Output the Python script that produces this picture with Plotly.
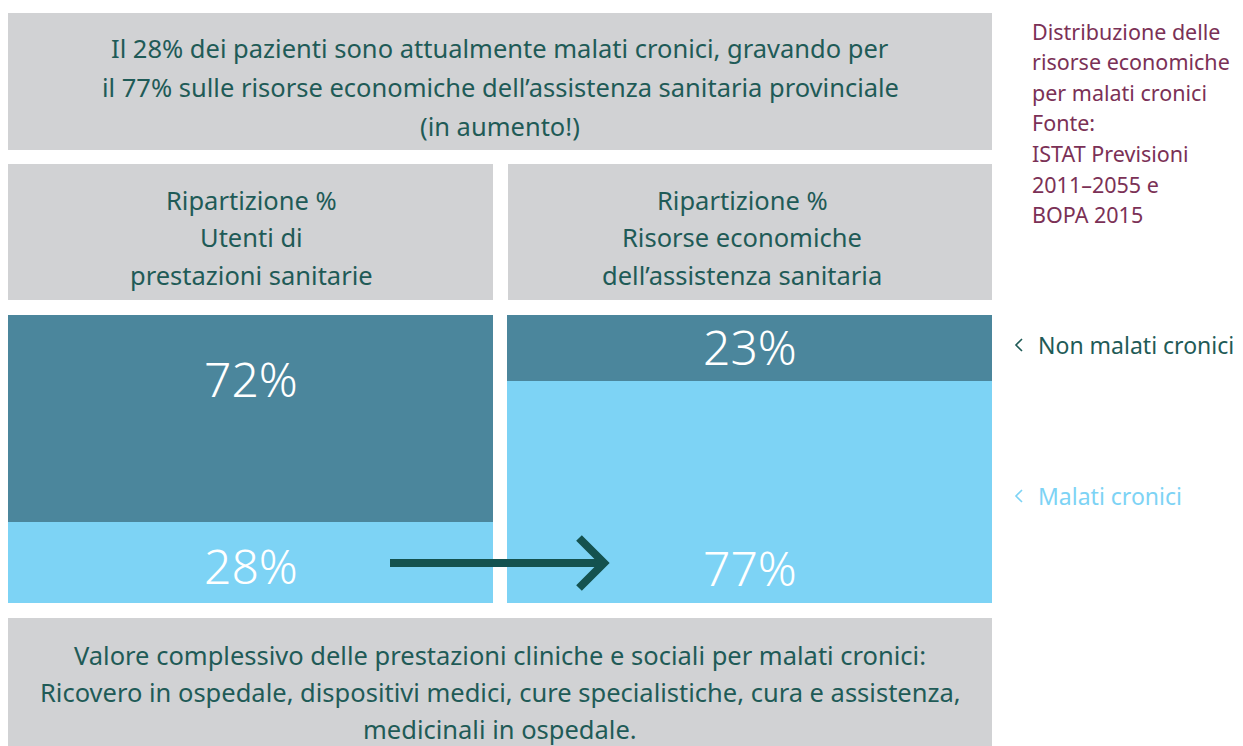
import plotly.graph_objects as go

# ---- data ----
categories = ["Utenti di prestazioni sanitarie", "Risorse economiche dell'assistenza sanitaria"]
malati_cronici = [28, 77]
non_malati_cronici = [72, 23]
series_names = ["Malati cronici", "Non malati cronici"]
bar_labels_malati = ["28%", "77%"]
bar_labels_non = ["72%", "23%"]

title_lines = [
    "Il 28% dei pazienti sono attualmente malati cronici, gravando per",
    "il 77% sulle risorse economiche dell\u2019assistenza sanitaria provinciale",
    "(in aumento!)",
]
header_left = ["Ripartizione %", "Utenti di", "prestazioni sanitarie"]
header_right = ["Ripartizione %", "Risorse economiche", "dell\u2019assistenza sanitaria"]
footer_lines = [
    "Valore complessivo delle prestazioni cliniche e sociali per malati cronici:",
    "Ricovero in ospedale, dispositivi medici, cure specialistiche, cura e assistenza,",
    "medicinali in ospedale.",
]
side_lines = [
    "Distribuzione delle", "risorse economiche", "per malati cronici", "Fonte:",
    "ISTAT Previsioni", "2011\u20132055 e", "BOPA 2015",
]

# ---- styles ----
DARK = "#4b869c"
LIGHT = "#7dd3f5"
GRAY = "#d1d2d4"
TEXT = "#1f5b57"
ARROW = "#14524f"
MAROON = "#7b3156"
FONT = "Noto Sans"

OFF = 8  # page body margin
W_FIG, H_FIG = 1243 - OFF, 746 - OFF
L, R, T, B = 8, 992, 315, 603  # plot area in page pixels


def px(x):
    return (x - L) / (R - L)


def py(y):
    return (B - y) / (B - T)


fig = go.Figure()
fig.add_trace(go.Bar(x=categories, y=malati_cronici, name=series_names[0],
                     marker=dict(color=LIGHT, line=dict(width=0)), width=0.972,
                     hoverinfo="skip"))
fig.add_trace(go.Bar(x=categories, y=non_malati_cronici, name=series_names[1],
                     marker=dict(color=DARK, line=dict(width=0)), width=0.972,
                     hoverinfo="skip"))

shapes = []


def box(x0, y0, x1, y1):
    shapes.append(dict(type="rect", xref="paper", yref="paper",
                       x0=px(x0), x1=px(x1), y0=py(y1), y1=py(y0),
                       fillcolor=GRAY, line=dict(width=0), layer="below"))


box(7, 13, 992, 150)
box(8, 164, 493, 300)
box(508, 164, 992, 300)
box(8, 618, 992, 760)

# arrow
shapes.append(dict(type="line", xref="paper", yref="paper",
                   x0=px(390), x1=px(604), y0=py(563), y1=py(563),
                   line=dict(color=ARROW, width=8)))
shapes.append(dict(type="path", xref="paper", yref="paper",
                   path=f"M {px(579)},{py(538)} L {px(604)},{py(563)} L {px(579)},{py(588)}",
                   line=dict(color=ARROW, width=8)))

# legend chevrons
for yc, col in [(345, TEXT), (496, LIGHT)]:
    shapes.append(dict(type="path", xref="paper", yref="paper",
                       path=f"M {px(1022)},{py(yc - 6)} L {px(1016)},{py(yc)} L {px(1022)},{py(yc + 6)}",
                       line=dict(color=col, width=1.6)))

annotations = []


def text(x, y, s, size, color, xanchor="center", weight=400):
    annotations.append(dict(xref="paper", yref="paper", x=px(x), y=py(y), text=s,
                            showarrow=False, xanchor=xanchor, yanchor="middle",
                            font=dict(family=FONT, size=size, color=color, weight=weight)))


for i, s in enumerate(title_lines):
    text(500, 48 + i * 39, s, 25.5, TEXT)
for i, s in enumerate(header_left):
    text(251, 200 + i * 37.5, s, 25.5, TEXT)
for i, s in enumerate(header_right):
    text(742, 200 + i * 37.5, s, 25.5, TEXT)
for i, s in enumerate(footer_lines):
    text(500, 655 + i * 37, s, 25.5, TEXT)
for i, s in enumerate(side_lines):
    text(1030, 31 + i * 30.6, s, 21.5, MAROON, xanchor="left")

text(1036, 345, series_names[1], 23, TEXT, xanchor="left")
text(1036, 496, series_names[0], 23, LIGHT, xanchor="left")

# bar value labels
label_pos_non = [378, 346]
label_pos_mal = [565, 567]
centers = [251, 750]
for i in range(2):
    text(centers[i], label_pos_non[i], bar_labels_non[i], 48, "white", weight=300)
    text(centers[i], label_pos_mal[i], bar_labels_malati[i], 48, "white", weight=300)

fig.update_layout(
    width=W_FIG, height=H_FIG,
    margin=dict(l=L - OFF, r=W_FIG - (R - OFF), t=T - OFF, b=H_FIG - (B - OFF), pad=0),
    barmode="stack",
    showlegend=False,
    paper_bgcolor="white", plot_bgcolor="white",
    xaxis=dict(visible=False, range=[-0.486, 1.486], fixedrange=True),
    yaxis=dict(visible=False, range=[0, 100], fixedrange=True),
    shapes=shapes, annotations=annotations,
    font=dict(family=FONT),
)

fig.write_html("out.html", config={"displayModeBar": False})
